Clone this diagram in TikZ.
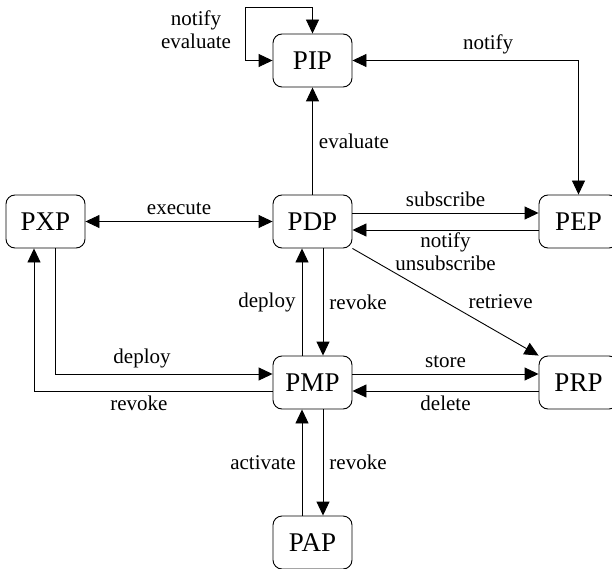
\documentclass[tikz,border=0pt]{standalone}
\usepackage{fontspec}
\setmainfont{Liberation Serif}
\usepackage{tikz}
\usetikzlibrary{arrows.meta,calc}

\begin{document}
\begin{tikzpicture}[x=1pt,y=-1pt,
    box/.style={draw,rounded corners=9pt,line width=0.9pt,minimum width=79pt,minimum height=53pt,inner sep=0pt,font=\fontsize{27}{30}\selectfont},
    lbl/.style={font=\fontsize{21}{23}\selectfont,inner sep=6pt},
    link/.style={line width=0.9pt,-{Triangle[length=14pt,width=13pt]}},
    dlink/.style={line width=0.9pt,{Triangle[length=14pt,width=13pt]}-{Triangle[length=14pt,width=13pt]}}]
    \useasboundingbox (0,0) rectangle (612,569);
    % nodes
    \node[box] (PIP) at (312.5,60.5) {PIP};
    \node[box] (PXP) at (45.5,221.5) {PXP};
    \node[box] (PDP) at (312.5,221.5) {PDP};
    \node[box] (PEP) at (578.5,221.5) {PEP};
    \node[box] (PMP) at (312.5,382.5) {PMP};
    \node[box] (PRP) at (578.5,382.5) {PRP};
    \node[box] (PAP) at (312.5,542.5) {PAP};
    % PIP loop
    \coordinate (loop) at (245,7);
    \draw[dlink] (PIP.west) -| (loop) -| (PIP.north);
    \node[lbl,align=center,inner sep=0pt] (loopLbl) at (196,30) {notify\\evaluate};
    \draw[dlink] (PIP.east) -| (PEP.north) node[lbl,pos=0.3,above] {notify};
    \draw[link] (PDP) -- (PIP) node[lbl,midway,right] {evaluate};
    \draw[dlink] (PXP) -- (PDP) node[lbl,midway,above] {execute};
    \draw[link] ([yshift=8.5pt]PDP.east) -- ([yshift=8.5pt]PEP.west) node[lbl,midway,above] {subscribe};
    \draw[link] ([yshift=-8.5pt]PEP.west) -- ([yshift=-8.5pt]PDP.east) node[lbl,midway,below,align=center,inner sep=2pt] {notify\\unsubscribe};
    \draw[link] (PDP.south east) -- (PRP.north west) node[lbl,pos=0.6,anchor=south west,inner sep=4pt] {retrieve};
    % PDP -- PMP
    \draw[link] ([xshift=-10.5pt]PMP.north) -- ([xshift=-10.5pt]PDP.south) node[lbl,midway,left] {deploy};
    \draw[link] ([xshift=10.5pt]PDP.south) -- ([xshift=10.5pt]PMP.north) node[lbl,midway,right] {revoke};
    % PXP -- PMP
    \draw[link] ([xshift=9.5pt]PXP.south) |- ([yshift=8.5pt]PMP.west) node[lbl,pos=0.7,above] {deploy};
    \draw[link] ([yshift=-8.5pt]PMP.west) -| ([xshift=-11.5pt]PXP.south) node[lbl,pos=0.28,below,inner sep=4pt] {revoke};
    % PMP -- PRP
    \draw[link] ([yshift=8.5pt]PMP.east) -- ([yshift=8.5pt]PRP.west) node[lbl,midway,above] {store};
    \draw[link] ([yshift=-8.5pt]PRP.west) -- ([yshift=-8.5pt]PMP.east) node[lbl,midway,below,inner sep=4pt] {delete};
    % PMP -- PAP
    \draw[link] ([xshift=-10.5pt]PAP.north) -- ([xshift=-10.5pt]PMP.south) node[lbl,midway,left] {activate};
    \draw[link] ([xshift=10.5pt]PMP.south) -- ([xshift=10.5pt]PAP.north) node[lbl,midway,right] {revoke};
\end{tikzpicture}
\end{document}
